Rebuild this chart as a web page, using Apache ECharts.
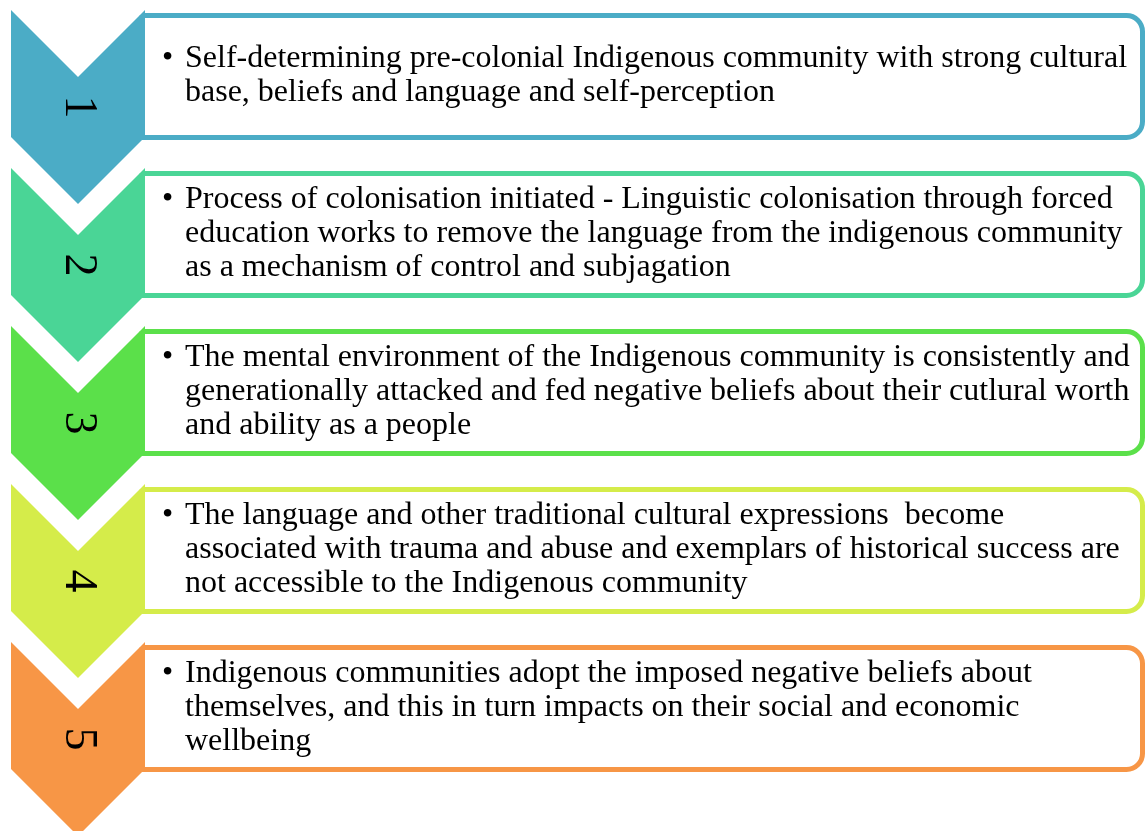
<!DOCTYPE html>
<html>
<head>
<meta charset="utf-8">
<script src="https://cdn.jsdelivr.net/npm/echarts@6/dist/echarts.min.js"></script>
<style>
  html, body { margin: 0; padding: 0; background: #fff; }
  #chart { width: 1145px; height: 831px; }
</style>
</head>
<body>
<div id="chart"></div>
<script>
// step numbers, shown rotated inside the chevrons
const stepLabels = ['1', '2', '3', '4', '5'];

// one colour per step (chevron fill and box border)
const stepColors = ['#4BACC6', '#4AD596', '#5BE04A', '#D5EC4A', '#F79646'];

// bullet text, broken into lines as in the picture
const stepLines = [
    ['Self-determining pre-colonial Indigenous community with strong cultural',
     'base, beliefs and language and self-perception'],
    ['Process of colonisation initiated - Linguistic colonisation through forced',
     'education works to remove the language from the indigenous community',
     'as a mechanism of control and subjagation'],
    ['The mental environment of the Indigenous community is consistently and',
     'generationally attacked and fed negative beliefs about their cutlural worth',
     'and ability as a people'],
    ['The language and other traditional cultural expressions  become',
     'associated with trauma and abuse and exemplars of historical success are',
     'not accessible to the Indigenous community'],
    ['Indigenous communities adopt the imposed negative beliefs about',
     'themselves, and this in turn impacts on their social and economic',
     'wellbeing']
];

const fontFamily = '"Liberation Serif", "Times New Roman", serif';
const lineH = 34;

function renderStep(params, api) {
    const idx = params.dataIndex;
    const start = api.coord([0, api.value(0)]);
    const unit = api.size([1, 1]);
    const x0 = start[0];
    const y0 = start[1];
    const step = unit[1];          // vertical distance between steps
    const w = 134;                 // chevron width
    const d = w / 2;               // notch / point depth
    const h = step * 0.804;        // chevron side height
    const color = stepColors[idx];
    const textMid = y0 + 66;
    const firstLine = textMid - (stepLines[idx].length - 1) * lineH / 2;

    return {
        type: 'group',
        children: [
            {
                type: 'rect',
                shape: { x: x0 + 131, y: y0 + 5.5, width: unit[0] - 133.5, height: h - 5, r: [0, 16, 16, 0] },
                style: { fill: '#fff', stroke: color, lineWidth: 5 }
            },
            {
                type: 'polygon',
                shape: {
                    points: [[x0, y0], [x0 + d, y0 + d], [x0 + w, y0], [x0 + w, y0 + h],
                             [x0 + d, y0 + h + d], [x0, y0 + h]]
                },
                style: { fill: color }
            },
            {
                type: 'text',
                x: x0 + d,
                y: y0 + 97,
                rotation: -Math.PI / 2,
                style: {
                    text: api.value(1),
                    fill: '#000',
                    font: '46px ' + fontFamily,
                    align: 'center',
                    verticalAlign: 'middle'
                }
            },
            {
                type: 'text',
                x: x0 + 151,
                y: firstLine,
                style: {
                    text: '\u2022',
                    fill: '#000',
                    font: '32px ' + fontFamily,
                    align: 'left',
                    verticalAlign: 'middle'
                }
            },
            {
                type: 'text',
                x: x0 + 174,
                y: textMid,
                style: {
                    text: stepLines[idx].join('\n'),
                    fill: '#000',
                    font: '32px ' + fontFamily,
                    align: 'left',
                    verticalAlign: 'middle',
                    lineHeight: lineH
                }
            }
        ]
    };
}

const chart = echarts.init(document.getElementById('chart'));
chart.setOption({
    backgroundColor: '#fff',
    animation: false,
    grid: { left: 11, right: 0, top: 10, height: 790 },
    xAxis: { type: 'value', min: 0, max: 1, show: false },
    yAxis: { type: 'value', min: 0, max: 5, inverse: true, show: false },
    series: [{
        type: 'custom',
        clip: false,
        renderItem: renderStep,
        data: stepLabels.map((label, i) => [i, label])
    }]
});
</script>
</body>
</html>
